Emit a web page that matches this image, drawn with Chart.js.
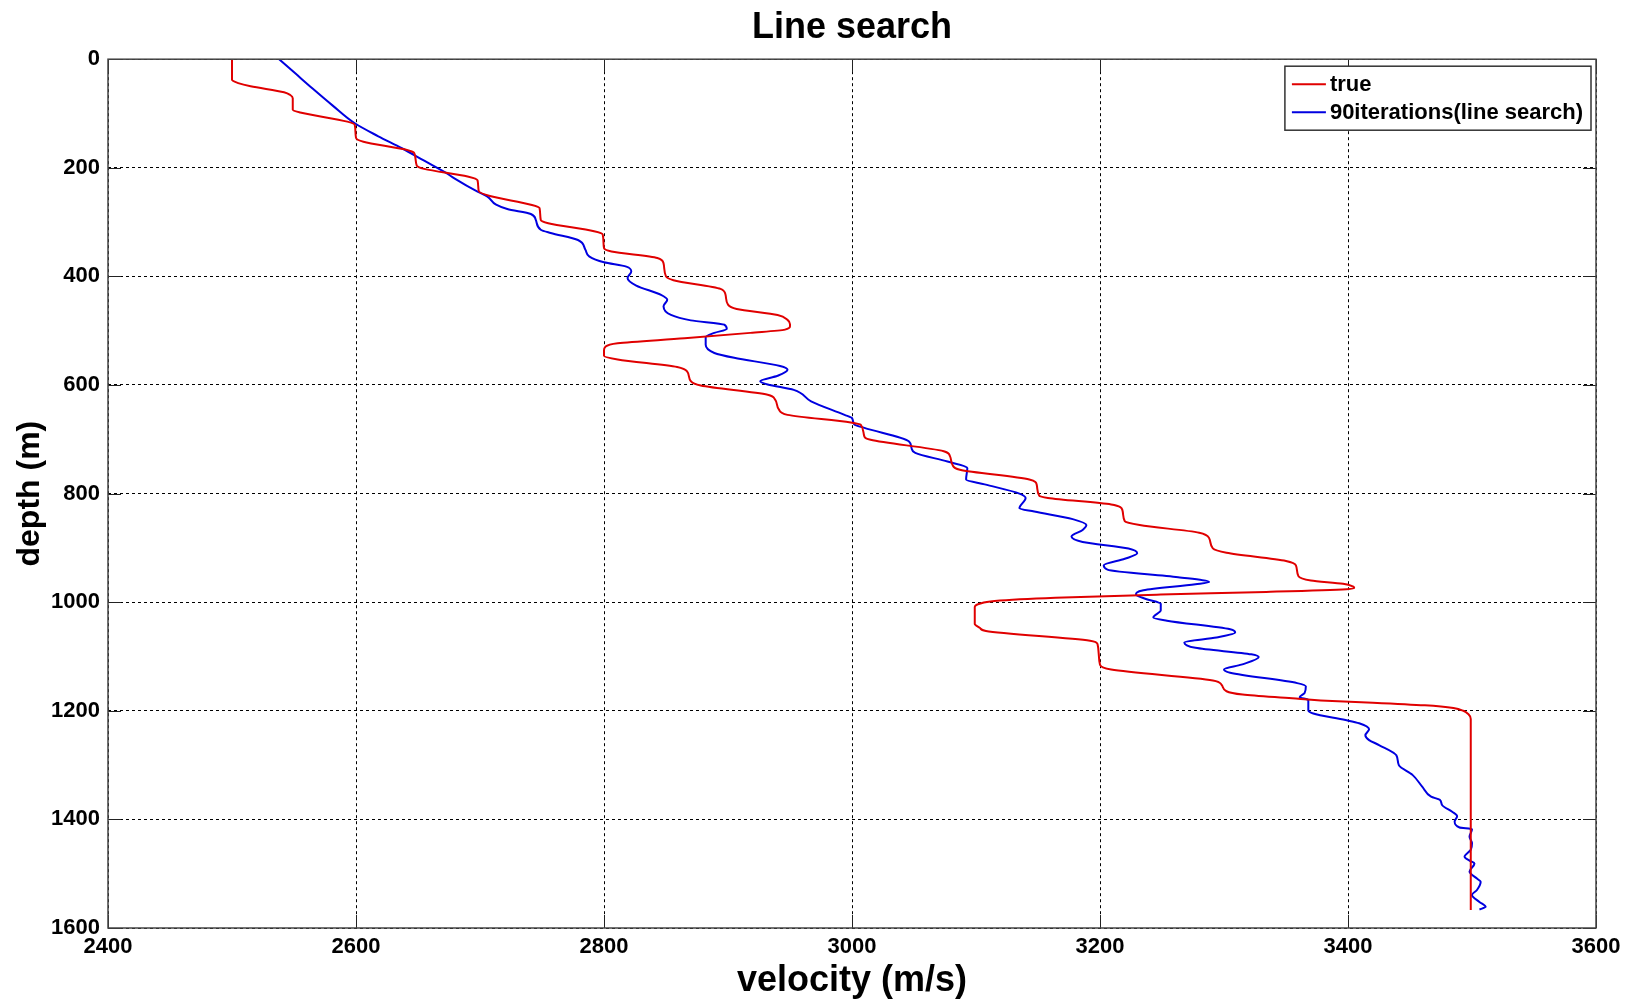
<!DOCTYPE html>
<html>
<head>
<meta charset="utf-8">
<title>Line search</title>
<script src="https://cdn.jsdelivr.net/npm/chart.js@4/dist/chart.umd.min.js"></script>
<style>
  html, body { margin: 0; padding: 0; background: #ffffff; }
  #wrap { width: 1633px; height: 1000px; }
</style>
</head>
<body>
<div id="wrap"><canvas id="chart" width="1633" height="1000"></canvas></div>
<script>
// True velocity model: depth (m) and velocity (m/s)
const trueDepth = [
  0, 38, 44, 50, 61, 66, 72, 93, 98, 115, 121, 145, 152, 166, 173, 196, 202, 216, 223, 243,
  252, 268, 274, 296, 302, 317, 323, 348, 354, 366, 376, 400, 407, 423, 434, 452, 460, 471, 480, 488,
  492, 498, 504, 514, 523, 530, 536, 546, 553, 567, 575, 593, 601, 618, 627, 645, 655, 669, 673, 695,
  701, 722, 731, 747, 756, 774, 784, 804, 808, 820, 830, 851, 858, 872, 882, 901, 909, 924, 932, 952,
  960, 966, 971, 974, 976, 981, 986, 992, 998, 1003, 1009, 1040, 1047, 1053, 1071, 1077, 1115, 1124, 1144, 1152,
  1164, 1170, 1177, 1181, 1185, 1190, 1195, 1200, 1206, 1215, 1567
];
const trueVelocity = [
  2500, 2500, 2505, 2515, 2542, 2547, 2549, 2549, 2555, 2593, 2599, 2600, 2606, 2639, 2647, 2649, 2655, 2690, 2698, 2699,
  2708, 2741, 2748, 2749, 2755, 2792, 2799, 2800, 2806, 2843, 2848, 2850, 2856, 2894, 2898, 2900, 2907, 2940, 2948, 2950,
  2950, 2946, 2918, 2865, 2811, 2801, 2800, 2800, 2811, 2859, 2867, 2870, 2878, 2932, 2938, 2941, 2948, 2999, 3007, 3010,
  3015, 3074, 3079, 3081, 3087, 3143, 3149, 3151, 3158, 3209, 3218, 3220, 3232, 3280, 3288, 3291, 3302, 3350, 3358, 3360,
  3370, 3396, 3404, 3405, 3399, 3334, 3249, 3164, 3115, 3103, 3099, 3099, 3103, 3108, 3192, 3198, 3200, 3209, 3291, 3298,
  3302, 3315, 3355, 3378, 3420, 3462, 3485, 3493, 3497, 3499, 3499
];

// Inverted model after 90 iterations with line search
const invDepth = [
  0, 26, 54, 85, 118, 142, 164, 187, 210, 219, 244, 253, 268, 276, 285, 296, 314, 320, 333, 351, 363,
  374, 382, 391, 403, 417, 434, 443, 455, 471, 481, 489, 497, 504, 512, 526, 541, 550, 565, 572, 583,
  593, 599, 609, 630, 655, 661, 673, 679, 704, 716, 725, 741, 753, 774, 783, 800, 808, 827, 833, 847,
  858, 867, 879, 889, 901, 910, 920, 932, 940, 954, 963, 967, 978, 986, 994, 1003, 1015, 1028, 1034, 1050,
  1056, 1065, 1074, 1084, 1096, 1101, 1115, 1124, 1130, 1149, 1155, 1167, 1175, 1180, 1199, 1205, 1217, 1223, 1234, 1245,
  1254, 1263, 1282, 1300, 1318, 1340, 1358, 1364, 1374, 1386, 1394, 1404, 1415, 1418, 1432, 1444, 1456, 1469, 1476, 1481,
  1496, 1509, 1515, 1530, 1539, 1552, 1561, 1566
];
const invVelocity = [
  2538, 2551, 2565, 2581, 2599, 2618, 2637, 2655, 2673, 2679, 2698, 2706, 2713, 2722, 2741, 2745, 2749, 2757, 2779, 2785, 2788,
  2800, 2818, 2822, 2819, 2826, 2846, 2851, 2848, 2854, 2870, 2897, 2899, 2889, 2882, 2882, 2889, 2905, 2942, 2948, 2940,
  2926, 2932, 2953, 2967, 2994, 3000, 3002, 3010, 3046, 3048, 3051, 3077, 3093, 3092, 3107, 3135, 3140, 3135, 3147, 3178,
  3189, 3186, 3177, 3186, 3223, 3230, 3220, 3203, 3206, 3263, 3288, 3277, 3235, 3229, 3237, 3249, 3249, 3243, 3254, 3305,
  3309, 3294, 3268, 3277, 3322, 3328, 3314, 3300, 3305, 3359, 3366, 3365, 3361, 3368, 3368, 3372, 3398, 3409, 3417, 3414,
  3417, 3425, 3439, 3441, 3452, 3460, 3467, 3474, 3476, 3484, 3488, 3486, 3490, 3500, 3498, 3500, 3499, 3494, 3498, 3502,
  3498, 3504, 3507, 3504, 3500, 3506, 3511, 3506
];

// Axis ranges and ticks
const velocityTicks = [2400, 2600, 2800, 3000, 3200, 3400, 3600];
const depthTicks = [0, 200, 400, 600, 800, 1000, 1200, 1400, 1600];
const seriesLabels = ['true', '90iterations(line search)'];
const seriesColors = ['#e00000', '#0000e0'];

const FONT = '"Liberation Sans", Arial, Helvetica, sans-serif';

function toPoints(depths, velocities) {
  return depths.map((d, i) => ({ x: velocities[i], y: d }));
}

// Frame around the plot with inward tick marks on all four sides
const framePlugin = {
  id: 'frame',
  afterDraw(chart) {
    const { ctx, chartArea: a, scales } = chart;
    const len = 13;
    ctx.save();
    ctx.strokeStyle = '#222222';
    ctx.lineWidth = 1;
    ctx.beginPath();
    velocityTicks.forEach(v => {
      const x = Math.round(scales.x.getPixelForValue(v)) + 0.5;
      ctx.moveTo(x, a.bottom); ctx.lineTo(x, a.bottom - len);
      ctx.moveTo(x, a.top); ctx.lineTo(x, a.top + len);
    });
    depthTicks.forEach(d => {
      const y = Math.round(scales.y.getPixelForValue(d)) + 0.5;
      ctx.moveTo(a.left, y); ctx.lineTo(a.left + len, y);
      ctx.moveTo(a.right, y); ctx.lineTo(a.right - len, y);
    });
    ctx.stroke();
    ctx.strokeStyle = '#444444';
    ctx.lineWidth = 1.5;
    ctx.strokeRect(a.left, a.top, a.right - a.left, a.bottom - a.top);
    ctx.restore();
  }
};

// Boxed legend in the top-right corner of the plot
const boxLegendPlugin = {
  id: 'boxLegend',
  afterDraw(chart) {
    const { ctx, chartArea: a } = chart;
    const sets = chart.data.datasets;
    ctx.save();
    ctx.font = 'bold 22px ' + FONT;
    const textW = Math.max(...sets.map(s => ctx.measureText(s.label).width));
    const padL = 7, lineLen = 34, gap = 4, padR = 8, rowH = 28, padT = 4;
    const w = padL + lineLen + gap + textW + padR;
    const h = padT * 2 + rowH * sets.length;
    const x0 = a.right - 5 - w;
    const y0 = a.top + 7;
    ctx.fillStyle = '#ffffff';
    ctx.fillRect(x0, y0, w, h);
    ctx.strokeStyle = '#333333';
    ctx.lineWidth = 1.5;
    ctx.strokeRect(x0, y0, w, h);
    sets.forEach((s, i) => {
      const cy = y0 + padT + rowH * i + rowH / 2;
      ctx.strokeStyle = s.borderColor;
      ctx.lineWidth = 2;
      ctx.beginPath();
      ctx.moveTo(x0 + padL, cy);
      ctx.lineTo(x0 + padL + lineLen, cy);
      ctx.stroke();
      ctx.fillStyle = '#000000';
      ctx.textBaseline = 'middle';
      ctx.textAlign = 'left';
      ctx.fillText(s.label, x0 + padL + lineLen + gap, cy + 1);
    });
    ctx.restore();
  }
};

const plainTick = v => String(v);

new Chart(document.getElementById('chart'), {
  type: 'line',
  data: {
    datasets: [
      {
        label: seriesLabels[0],
        data: toPoints(trueDepth, trueVelocity),
        borderColor: seriesColors[0],
        borderWidth: 2,
        pointRadius: 0,
        fill: false,
        cubicInterpolationMode: 'monotone'
      },
      {
        label: seriesLabels[1],
        data: toPoints(invDepth, invVelocity),
        borderColor: seriesColors[1],
        borderWidth: 2,
        pointRadius: 0,
        fill: false,
        cubicInterpolationMode: 'monotone'
      }
    ]
  },
  options: {
    responsive: false,
    animation: false,
    devicePixelRatio: 1,
    indexAxis: 'y',
    layout: { padding: { left: 0, right: 37, top: 0, bottom: 0 } },
    plugins: {
      legend: { display: false },
      tooltip: { enabled: false },
      title: {
        display: true,
        fullSize: false,
        text: 'Line search',
        color: '#000000',
        font: { family: FONT, size: 36, weight: 'bold' },
        padding: { top: 6, bottom: 10 }
      }
    },
    scales: {
      x: {
        type: 'linear',
        position: 'bottom',
        min: 2400,
        max: 3600,
        afterBuildTicks(scale) { scale.ticks = velocityTicks.map(v => ({ value: v })); },
        afterFit(scale) { scale.height = 72; },
        ticks: {
          color: '#000000',
          font: { family: FONT, size: 22, weight: 'bold' },
          padding: 6,
          maxRotation: 0,
          callback: plainTick
        },
        grid: { color: '#000000', lineWidth: 1, drawTicks: false },
        border: { display: false, dash: [3, 3] },
        title: {
          display: true,
          text: 'velocity (m/s)',
          color: '#000000',
          font: { family: FONT, size: 36, weight: 'bold', lineHeight: 1 },
          padding: { top: 0, bottom: 1 }
        }
      },
      y: {
        type: 'linear',
        position: 'left',
        reverse: true,
        min: 0,
        max: 1600,
        afterBuildTicks(scale) { scale.ticks = depthTicks.map(v => ({ value: v })); },
        afterFit(scale) { scale.width = 108; },
        ticks: {
          color: '#000000',
          font: { family: FONT, size: 22, weight: 'bold' },
          padding: 8,
          callback: plainTick
        },
        grid: { color: '#000000', lineWidth: 1, drawTicks: false },
        border: { display: false, dash: [3, 3] },
        title: {
          display: true,
          text: 'depth (m)',
          color: '#000000',
          font: { family: FONT, size: 32, weight: 'bold' },
          padding: { top: 11, bottom: 0 }
        }
      }
    }
  },
  plugins: [framePlugin, boxLegendPlugin]
});
</script>
</body>
</html>
